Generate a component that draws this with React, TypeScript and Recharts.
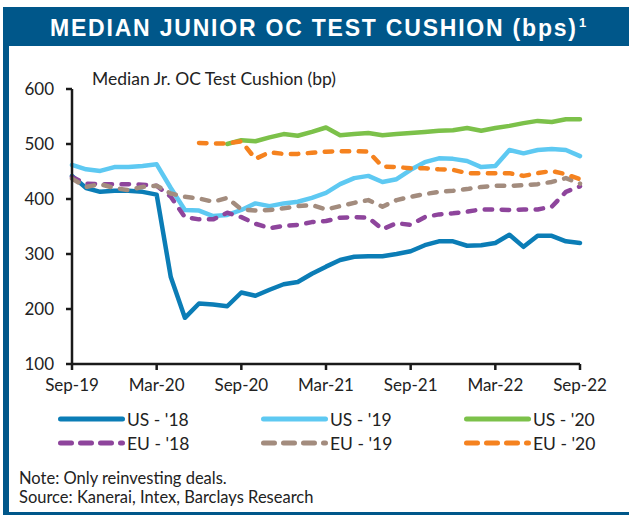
import { LineChart, Line, XAxis, YAxis } from "recharts";

const months = [
  "Sep-19", "Oct-19", "Nov-19", "Dec-19", "Jan-20", "Feb-20", "Mar-20", "Apr-20", "May-20", "Jun-20",
  "Jul-20", "Aug-20", "Sep-20", "Oct-20", "Nov-20", "Dec-20", "Jan-21", "Feb-21", "Mar-21", "Apr-21",
  "May-21", "Jun-21", "Jul-21", "Aug-21", "Sep-21", "Oct-21", "Nov-21", "Dec-21", "Jan-22", "Feb-22",
  "Mar-22", "Apr-22", "May-22", "Jun-22", "Jul-22", "Aug-22", "Sep-22",
];
const tickLabels = ["Sep-19", "Mar-20", "Sep-20", "Mar-21", "Sep-21", "Mar-22", "Sep-22"];
const yTicks = [100, 200, 300, 400, 500, 600];

const us18 = [442, 420, 413, 415, 415, 413, 408, 258, 184, 210, 208, 205, 230, 224, 235, 245, 249, 264, 277, 289, 295, 296, 296, 300, 305, 316, 323, 323, 315, 316, 320, 335, 313, 333, 333, 323, 320];
const us19 = [462, 454, 451, 458, 458, 460, 463, 420, 380, 379, 369, 371, 380, 392, 387, 392, 395, 402, 411, 427, 438, 442, 431, 436, 453, 467, 474, 473, 469, 458, 460, 489, 483, 489, 491, 489, 478];
const us20 = [null, null, null, null, null, null, null, null, null, null, null, 500, 507, 505, 512, 518, 515, 522, 530, 516, 518, 520, 516, 518, 520, 522, 524, 525, 529, 524, 529, 533, 538, 542, 540, 545, 545];
const eu18 = [440, 428, 427, 427, 427, 426, 424, 404, 367, 363, 363, 375, 367, 355, 347, 351, 353, 358, 360, 366, 367, 366, 345, 356, 353, 367, 372, 374, 377, 381, 381, 380, 381, 381, 386, 413, 423];
const eu19 = [437, 422, 427, 420, 416, 422, 424, 410, 404, 401, 395, 402, 381, 379, 380, 383, 387, 389, 381, 387, 393, 398, 386, 398, 404, 409, 413, 415, 418, 422, 424, 424, 425, 427, 431, 438, 428];
const eu20 = [null, null, null, null, null, null, null, null, null, 502, 501, 501, 505, 473, 485, 482, 482, 484, 486, 487, 487, 486, 459, 458, 456, 456, 454, 453, 447, 447, 447, 447, 442, 447, 451, 445, 436];

const series = [
  { key: "us18", name: "US - '18", color: "#0B7DB6", dashed: false },
  { key: "us19", name: "US - '19", color: "#5EC9F2", dashed: false },
  { key: "us20", name: "US - '20", color: "#7CC14A", dashed: false },
  { key: "eu18", name: "EU - '18", color: "#8E459C", dashed: true },
  { key: "eu19", name: "EU - '19", color: "#A38C7E", dashed: true },
  { key: "eu20", name: "EU - '20", color: "#F5821F", dashed: true },
];

const data = months.map((m, i) => ({
  idx: i,
  month: m,
  us18: us18[i],
  us19: us19[i],
  us20: us20[i],
  eu18: eu18[i],
  eu19: eu19[i],
  eu20: eu20[i],
}));

const FRAME = "#00578A";
const FONT = "Lato, 'Liberation Sans', sans-serif";
const tickStyle = { fontSize: 17, fill: "#222", fontFamily: FONT };

function LegendItem({ s, x, y }: { s: (typeof series)[number]; x: number; y: number }) {
  return (
    <div style={{ position: "absolute", left: x, top: y - 12, height: 24, display: "flex", alignItems: "center" }}>
      <svg width={68} height={10} style={{ display: "block" }}>
        <line
          x1={2.5}
          y1={5}
          x2={64.5}
          y2={5}
          stroke={s.color}
          strokeWidth={5}
          strokeLinecap="round"
          strokeDasharray={s.dashed ? "11 9" : undefined}
        />
      </svg>
      <span style={{ fontFamily: FONT, fontSize: 17.5, color: "#222", marginLeft: 1 }}>{s.name}</span>
    </div>
  );
}

export default function App() {
  const tickIdx = tickLabels.map((t) => months.indexOf(t));
  return (
    <div style={{ position: "absolute", left: 0, top: 0, width: 629, height: 515, background: "#fff", overflow: "hidden" }}>
      {/* frame: left border, title band, bottom rule */}
      <div style={{ position: "absolute", left: 3, top: 7, width: 626, height: 39, background: FRAME }} />
      <div style={{ position: "absolute", left: 3, top: 7, width: 6, height: 508, background: FRAME }} />
      <div style={{ position: "absolute", left: 3, top: 512, width: 626, height: 3, background: FRAME }} />

      <svg width={629} height={50} style={{ position: "absolute", left: 0, top: 0 }}>
        <text
          x={50}
          y={36}
          fill="#fff"
          fontFamily="'Liberation Sans', Arial, sans-serif"
          fontWeight="bold"
          fontSize={23}
          textLength={526}
          lengthAdjust="spacing"
        >
          MEDIAN JUNIOR OC TEST CUSHION (bps)
        </text>
        <text x={579} y={27} fill="#fff" fontFamily="'Liberation Sans', Arial, sans-serif" fontWeight="bold" fontSize={13}>
          1
        </text>
      </svg>

      <div style={{ position: "absolute", left: 92, top: 68, fontFamily: FONT, fontSize: 17.5, color: "#222", whiteSpace: "nowrap" }}>
        Median Jr. OC Test Cushion (bp)
      </div>

      <div style={{ position: "absolute", left: 0, top: 0 }}>
        <LineChart width={629} height={420} data={data} margin={{ top: 89, right: 49, left: 12, bottom: 26 }}>
          <XAxis
            dataKey="idx"
            type="number"
            domain={[0, months.length - 1]}
            ticks={tickIdx}
            tickFormatter={(v: number) => months[v]}
            axisLine={{ stroke: "#1a1a1a", strokeWidth: 2.5 }}
            tickLine={{ stroke: "#1a1a1a", strokeWidth: 2.5 }}
            tickSize={6}
            tickMargin={9}
            tick={tickStyle}
            height={30}
          />
          <YAxis
            domain={[100, 600]}
            ticks={yTicks}
            axisLine={{ stroke: "#1a1a1a", strokeWidth: 2.5 }}
            tickLine={{ stroke: "#1a1a1a", strokeWidth: 2.5 }}
            tickSize={6}
            tickMargin={12}
            tick={tickStyle}
            width={60}
          />
          {series.map((s) => (
            <Line
              key={s.key}
              dataKey={s.key}
              name={s.name}
              stroke={s.color}
              strokeWidth={4.5}
              strokeLinecap="round"
              strokeLinejoin="round"
              strokeDasharray={s.dashed ? "7.5 9.5" : undefined}
              dot={false}
              activeDot={false}
              type="linear"
              isAnimationActive={false}
            />
          ))}
        </LineChart>
      </div>

      {series.map((s, i) => (
        <LegendItem key={s.key} s={s} x={58 + (i % 3) * 203} y={i < 3 ? 419 : 443} />
      ))}

      <div style={{ position: "absolute", left: 19, top: 469, fontFamily: FONT, fontSize: 16.5, color: "#222", lineHeight: "19px" }}>
        Note: Only reinvesting deals.
        <br />
        Source: Kanerai, Intex, Barclays Research
      </div>
    </div>
  );
}
